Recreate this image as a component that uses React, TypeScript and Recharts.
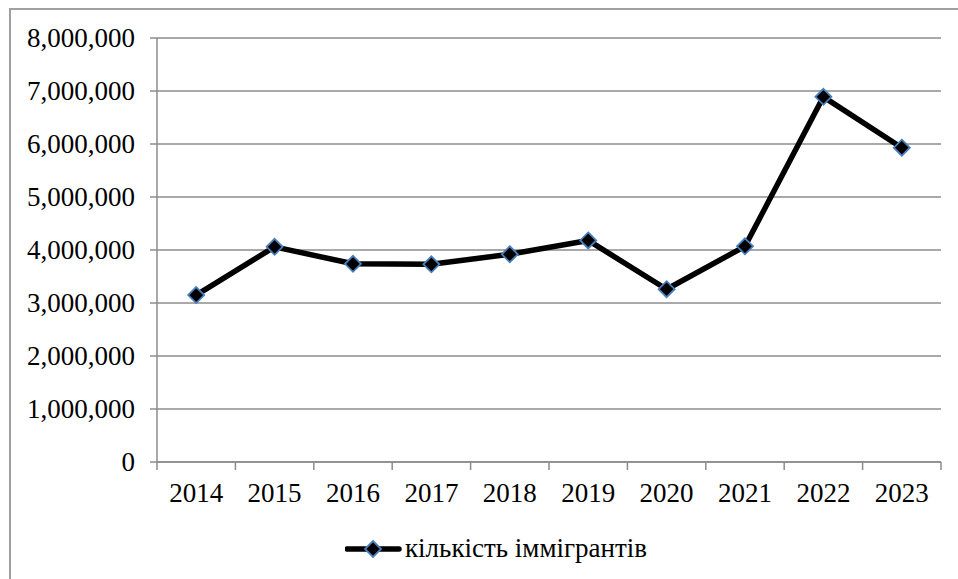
import { LineChart, Line, XAxis, YAxis, CartesianGrid, Legend } from 'recharts';

const YEARS = ['2014', '2015', '2016', '2017', '2018', '2019', '2020', '2021', '2022', '2023'];
const IMMIGRANTS = [3150000, 4060000, 3740000, 3730000, 3920000, 4180000, 3260000, 4070000, 6890000, 5930000];
const Y_TICKS = [0, 1000000, 2000000, 3000000, 4000000, 5000000, 6000000, 7000000, 8000000];
const SERIES_NAME = 'кількість іммігрантів';

const data = YEARS.map((year, i) => ({ year, value: IMMIGRANTS[i] }));

const W = 958;
const H = 579;
const PLOT_LEFT = 157;
const PLOT_RIGHT = 941;
const PLOT_TOP = 38;
const AXIS_Y = 462;
const BAND = (PLOT_RIGHT - PLOT_LEFT) / YEARS.length;

const FONT = '"Liberation Serif", "Times New Roman", serif';
const FONT_SIZE = 27;
const AXIS_GRAY = '#8c8c8c';
const MARKER_BLUE = '#4a7ebb';

const Diamond = ({ cx, cy, r = 8 }: { cx: number; cy: number; r?: number }) => (
  <path
    d={`M${cx},${cy - r}L${cx + r},${cy}L${cx},${cy + r}L${cx - r},${cy}Z`}
    fill="#000"
    stroke={MARKER_BLUE}
    strokeWidth={1.8}
  />
);

const YearTick = (props: any) => {
  const { x, payload, index } = props;
  const left = x - BAND / 2;
  return (
    <g>
      <line x1={left} y1={AXIS_Y} x2={left} y2={AXIS_Y + 8} stroke={AXIS_GRAY} strokeWidth={1.5} />
      {index === YEARS.length - 1 && (
        <line x1={left + BAND} y1={AXIS_Y} x2={left + BAND} y2={AXIS_Y + 8} stroke={AXIS_GRAY} strokeWidth={1.5} />
      )}
      <text x={x} y={AXIS_Y + 40} textAnchor="middle" fontSize={FONT_SIZE} fontFamily={FONT} fill="#000">
        {payload.value}
      </text>
    </g>
  );
};

const ValueTick = (props: any) => {
  const { y, payload } = props;
  return (
    <text x={PLOT_LEFT - 22} y={y + 9} textAnchor="end" fontSize={FONT_SIZE} fontFamily={FONT} fill="#000">
      {Number(payload.value).toLocaleString('en-US')}
    </text>
  );
};

const LegendContent = () => (
  <svg width={330} height={40} style={{ display: 'block' }}>
    <line x1={2} y1={19} x2={54} y2={19} stroke="#000" strokeWidth={5.5} strokeLinecap="round" />
    <Diamond cx={28} cy={19} />
    <text x={60} y={27} fontSize={FONT_SIZE} fontFamily={FONT} fill="#000">
      {SERIES_NAME}
    </text>
  </svg>
);

export default function App() {
  return (
    <div style={{ position: 'absolute', left: 0, top: 0, width: W, height: H, background: '#fff', overflow: 'hidden', fontFamily: FONT }}>
      <div
        style={{
          position: 'absolute',
          left: 9,
          top: 8,
          width: W,
          height: H,
          borderLeft: '2px solid #a0a0a0',
          borderTop: '2px solid #a0a0a0',
        }}
      />
      <LineChart
        width={W}
        height={H}
        data={data}
        margin={{ top: PLOT_TOP, right: W - PLOT_RIGHT, bottom: H - AXIS_Y - 60, left: 0 }}
        style={{ position: 'absolute', left: 0, top: 0 }}
      >
        <CartesianGrid vertical={false} stroke={AXIS_GRAY} strokeWidth={1.5} />
        <XAxis
          dataKey="year"
          scale="band"
          height={60}
          interval={0}
          axisLine={{ stroke: AXIS_GRAY, strokeWidth: 1.5 }}
          tickLine={false}
          tick={<YearTick />}
        />
        <YAxis
          width={PLOT_LEFT}
          domain={[0, 8000000]}
          ticks={Y_TICKS}
          interval={0}
          tickSize={7}
          tickMargin={15}
          axisLine={{ stroke: AXIS_GRAY, strokeWidth: 1.5 }}
          tickLine={{ stroke: AXIS_GRAY, strokeWidth: 1.5 }}
          tick={<ValueTick />}
        />
        <Legend
          layout="horizontal"
          verticalAlign="middle"
          align="center"
          content={<LegendContent />}
          wrapperStyle={{ left: 345, top: 530, width: 330 }}
        />
        <Line
          type="linear"
          dataKey="value"
          name={SERIES_NAME}
          stroke="#000"
          strokeWidth={5.5}
          strokeLinejoin="round"
          dot={(p: any) => <Diamond key={p.index} cx={p.cx} cy={p.cy} />}
          activeDot={false}
          isAnimationActive={false}
        />
      </LineChart>
    </div>
  );
}
